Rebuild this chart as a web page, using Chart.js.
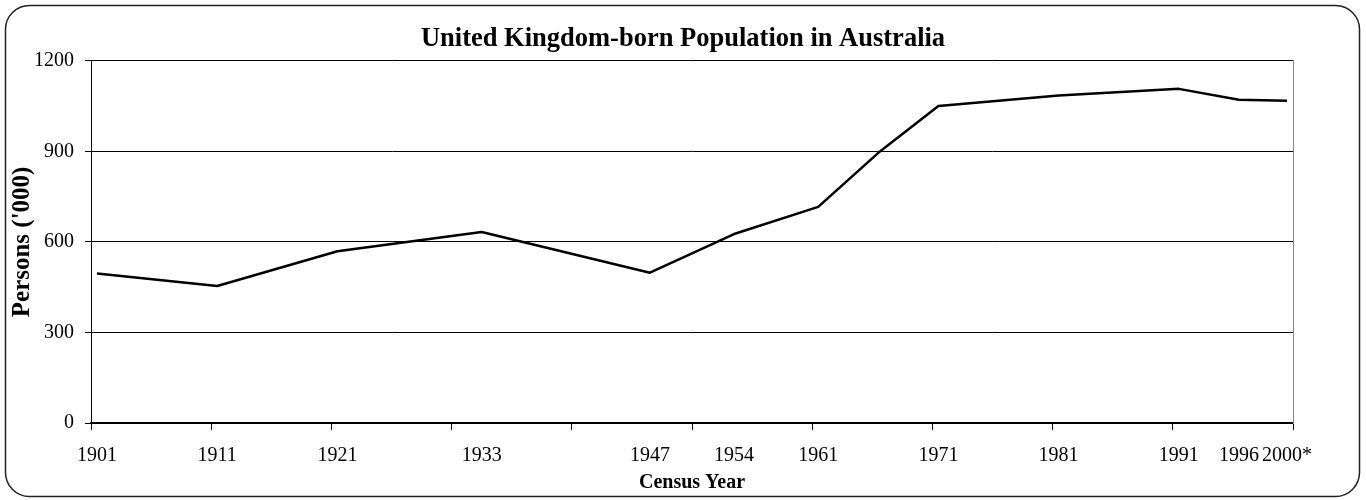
<!DOCTYPE html>
<html>
<head>
<meta charset="utf-8">
<title>United Kingdom-born Population in Australia</title>
<script src="https://cdn.jsdelivr.net/npm/chart.js@4.4.1/dist/chart.umd.min.js"></script>
<style>
  html, body { margin: 0; padding: 0; background: #fff; }
  canvas { display: block; }
</style>
</head>
<body>
<canvas id="uk-chart" width="1366" height="500"></canvas>
<script>
// census years and UK-born persons ('000)
var censusYears = [1901, 1911, 1921, 1933, 1947, 1954, 1961, 1966, 1971, 1981, 1991, 1996, 2000];
var persons = [495, 454, 569, 633, 498, 626, 716, 895, 1050, 1085, 1107, 1071, 1068];

// years that get a label under the axis
var labelYears = [1901, 1911, 1921, 1933, 1947, 1954, 1961, 1971, 1981, 1991, 1996, 2000];
var labelTexts = ['1901', '1911', '1921', '1933', '1947', '1954', '1961', '1971', '1981', '1991', '1996', '2000*'];

var yTicks = [0, 300, 600, 900, 1200];

// one category per year on the x axis
var firstYear = 1901, lastYear = 2000;
var allYears = [];
for (var yr = firstYear; yr <= lastYear; yr++) {
    allYears.push(String(yr));
}

var serif = "'Liberation Serif', 'Times New Roman', serif";

// rounded outer frame like the original worksheet chart
var frame = {
    id: 'frame',
    beforeDraw: function(chart) {
        var ctx = chart.ctx;
        ctx.save();
        ctx.fillStyle = '#fff';
        ctx.fillRect(0, 0, chart.width, chart.height);
        ctx.beginPath();
        ctx.roundRect(5.5, 5.5, 1354, 491, 24);
        ctx.strokeStyle = '#222';
        ctx.lineWidth = 1.5;
        ctx.stroke();
        ctx.restore();
    }
};

var chartData = {
    labels: allYears,
    datasets: [{
        label: "Persons ('000)",
        data: censusYears.map(function(y, i) { return { x: String(y), y: persons[i] }; }),
        borderColor: '#000',
        borderWidth: 2.5,
        borderJoinStyle: 'round',
        pointRadius: 0,
        tension: 0,
        fill: false
    }]
};

new Chart(document.getElementById('uk-chart'), {
    type: 'line',
    data: chartData,
    plugins: [frame],
    options: {
        responsive: false,
        animation: false,
        layout: {
            padding: { left: 0, right: 0, top: 5, bottom: 0 }
        },
        plugins: {
            legend: { display: false },
            tooltip: { enabled: false },
            title: {
                display: true,
                text: 'United Kingdom-born Population in Australia',
                color: '#000',
                font: { family: serif, size: 26.5, weight: 'bold' },
                padding: { top: 18, bottom: 6 }
            }
        },
        scales: {
            x: {
                type: 'category',
                offset: true,
                afterFit: function(scale) { scale.height = 77; },
                grid: {
                    offset: true,
                    drawOnChartArea: false,
                    tickLength: 7,
                    color: function(c) {
                        if (c.index === undefined || c.index % 10 === 0) return '#000';
                        return 'rgba(0,0,0,0)';
                    }
                },
                border: { color: '#000', width: 2 },
                ticks: {
                    autoSkip: false,
                    maxRotation: 0,
                    minRotation: 0,
                    color: '#000',
                    padding: 14,
                    font: { family: serif, size: 20 },
                    callback: function(val, idx) {
                        var k = labelYears.indexOf(Number(allYears[idx]));
                        return k === -1 ? '' : labelTexts[k];
                    }
                },
                title: {
                    display: true,
                    text: 'Census Year',
                    color: '#000',
                    font: { family: serif, size: 20, weight: 'bold', lineHeight: 1 },
                    padding: { top: 0, bottom: 7 }
                }
            },
            y: {
                min: yTicks[0],
                max: yTicks[yTicks.length - 1],
                afterBuildTicks: function(scale) {
                    scale.ticks = yTicks.map(function(v) { return { value: v }; });
                },
                afterFit: function(scale) { scale.width = 91; },
                grid: { color: '#000', lineWidth: 1, tickLength: 6 },
                border: { color: '#000', width: 1 },
                ticks: {
                    color: '#000',
                    padding: 11,
                    font: { family: serif, size: 20 },
                    callback: function(v) { return String(v); }
                },
                title: {
                    display: true,
                    text: "Persons ('000)",
                    color: '#000',
                    font: { family: serif, size: 25, weight: 'bold', lineHeight: 1 },
                    padding: { top: 10, bottom: 0 }
                }
            },
            // empty right axis: keeps the right margin and draws the grey plot edge
            y2: {
                position: 'right',
                min: yTicks[0],
                max: yTicks[yTicks.length - 1],
                afterFit: function(scale) { scale.width = 73; },
                grid: { drawOnChartArea: false, drawTicks: false },
                border: { color: '#888', width: 1 },
                ticks: { display: false }
            }
        }
    }
});
</script>
</body>
</html>
